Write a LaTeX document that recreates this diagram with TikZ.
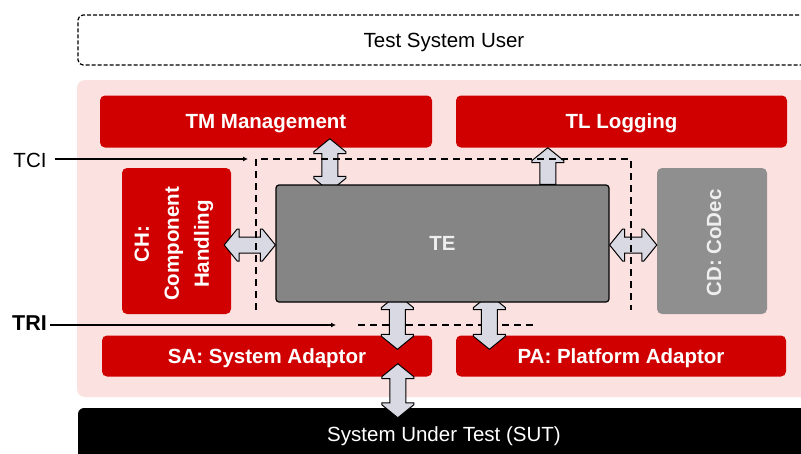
\documentclass[tikz,border=0pt]{standalone}
\usepackage{fontspec}
\setmainfont{Liberation Sans}
\usetikzlibrary{calc,arrows.meta}
\pgfdeclarelayer{boxes}
\pgfdeclarelayer{arrows}
\pgfsetlayers{boxes,arrows,main}
\definecolor{redC}{HTML}{D00000}
\definecolor{pinkC}{HTML}{FCE1E1}
\definecolor{teC}{HTML}{858585}
\definecolor{cdC}{HTML}{8F8F8F}
\definecolor{arrC}{HTML}{D9D9E3}
\definecolor{lightT}{HTML}{EEEEEE}
\newcommand{\VDblArrow}[2]{%
 \path[blk] let \p1=#1, \p2=#2 in
  (\x1,\y1) -- (\x1+16pt,\y1-13pt) -- (\x1+16pt,\y1-15pt) -- (\x1+8pt,\y1-15pt)
  -- (\x1+8pt,\y2+15pt) -- (\x1+16pt,\y2+15pt) -- (\x1+16pt,\y2+13pt) -- (\x1,\y2)
  -- (\x1-16pt,\y2+13pt) -- (\x1-16pt,\y2+15pt) -- (\x1-8pt,\y2+15pt)
  -- (\x1-8pt,\y1-15pt) -- (\x1-16pt,\y1-15pt) -- (\x1-16pt,\y1-13pt) -- cycle;}
\newcommand{\HDblArrow}[2]{%
 \path[blk] let \p1=#1, \p2=#2 in
  (\x1,\y1) -- (\x1+13pt,\y1+16pt) -- (\x1+15pt,\y1+16pt) -- (\x1+15pt,\y1+8pt)
  -- (\x2-15pt,\y1+8pt) -- (\x2-15pt,\y1+16pt) -- (\x2-13pt,\y1+16pt) -- (\x2,\y1)
  -- (\x2-13pt,\y1-16pt) -- (\x2-15pt,\y1-16pt) -- (\x2-15pt,\y1-8pt)
  -- (\x1+15pt,\y1-8pt) -- (\x1+15pt,\y1-16pt) -- (\x1+13pt,\y1-16pt) -- cycle;}
\newcommand{\VUpArrow}[2]{%
 \path[blk] let \p1=#1, \p2=#2 in
  (\x1,\y1) -- (\x1+16pt,\y1-13pt) -- (\x1+16pt,\y1-15pt) -- (\x1+8pt,\y1-15pt)
  -- (\x1+8pt,\y2) -- (\x1-8pt,\y2) -- (\x1-8pt,\y1-15pt) -- (\x1-16pt,\y1-15pt)
  -- (\x1-16pt,\y1-13pt) -- cycle;}
\tikzset{
  capbox/.style={text height=14.7pt, text depth=0pt},
  txt/.style={font=\fontsize{20.5}{30}\selectfont, capbox},
  redbox/.style={rectangle, rounded corners=5pt, fill=redC, text=white, inner sep=0pt,
    font=\fontsize{20.5}{30}\selectfont\bfseries, capbox},
  blk/.style={draw=black, line width=1pt, fill=arrC, line join=miter},
  bound/.style={draw=black, line width=1.3pt, dash pattern=on 7pt off 5pt},
  pointer/.style={draw=black, line width=1.2pt, -{Latex[length=5pt,width=5pt]}},
}
\begin{document}
\begin{tikzpicture}[x=1pt,y=-1pt]
\useasboundingbox (0,0) rectangle (801,453);
\begin{pgfonlayer}{boxes}
\fill[white] (0,0) rectangle (801,453);
% Test system user
\node[rectangle, rounded corners=5pt, draw=black, line width=1.2pt,
  dash pattern=on 4pt off 2pt, minimum width=732pt, minimum height=50pt,
  inner sep=0pt, txt] (TSU) at (444,40) {Test System User};
% pink test system region
\node[rectangle, rounded corners=8pt, fill=pinkC, minimum width=760pt,
  minimum height=317pt, inner sep=0pt] (TS) at (457,238.5) {};
% red components
\node[redbox, minimum width=332pt, minimum height=52pt] (TM) at (266,121.5) {TM Management};
\node[redbox, minimum width=331pt, minimum height=52pt] (TL) at (621.5,121.5) {TL Logging};
\node[redbox, minimum width=109pt, minimum height=146pt] (CH) at (176.5,241) {};
\node[rotate=90, align=center, text=white, inner sep=0pt,
  font=\fontsize{20.5}{30}\selectfont\bfseries] (CHt) at (174,244) {CH:\\Component\\Handling};
\node[rectangle, rounded corners=5pt, fill=cdC, minimum width=110pt,
  minimum height=146pt, inner sep=0pt] (CD) at (712,241) {};
\node[rotate=90, text=lightT, inner sep=0pt,
  font=\fontsize{20.5}{30}\selectfont\bfseries] (CDt) at (714,243) {CD: CoDec};
\node[redbox, minimum width=330pt, minimum height=41pt] (SA) at (267,356) {SA: System Adaptor};
\node[redbox, minimum width=330pt, minimum height=41pt] (PA) at (621,356) {PA: Platform Adaptor};
% SUT
\node[rectangle, rounded corners=6pt, fill=black, text=white, minimum width=732pt,
  minimum height=52pt, inner sep=0pt, txt] (SUT) at (444,434) {System Under Test (SUT)};
% TRI dashed line (behind arrows)
\coordinate (tri1) at (358,325);
\coordinate (tri2) at (534,325);
\draw[bound] (tri1) -- (tri2);
\end{pgfonlayer}
% TE
\node[rectangle, rounded corners=3pt, draw=black, line width=1.2pt, fill=teC,
  minimum width=333pt, minimum height=117pt, inner sep=0pt, text=lightT,
  font=\fontsize{20.5}{30}\selectfont\bfseries, capbox] (TE) at (442.5,243.5) {TE};
% block arrows
\begin{pgfonlayer}{arrows}
\VDblArrow{($(TM.south west)+(230,-9)$)}{($(TE.north west)+(54,7)$)}
\VUpArrow{($(TL.south west)+(92,0)$)}{($(TE.north west)+(272,0)$)}
\HDblArrow{($(CH.east)+(-7,4)$)}{($(TE.west)+(0,1.5)$)}
\HDblArrow{($(TE.east)+(0,1.5)$)}{($(CD.west)+(0,4)$)}
\VDblArrow{($(TE.south west)+(122,-8)$)}{($(SA.north west)+(296,14)$)}
\VDblArrow{($(TE.south west)+(214,-8)$)}{($(PA.north west)+(34,14)$)}
\VDblArrow{($(SA.south west)+(296,-13)$)}{($(SUT.north west)+(320,10)$)}
\end{pgfonlayer}
% TCI boundary
\coordinate (bl) at (256,310);
\coordinate (tr) at (631,159);
\coordinate (br) at (631,310);
\draw[bound] (bl) |- (tr) -- (br);
% interface labels
\node[txt, inner sep=0pt] (TCI) at (30,160) {TCI};
\coordinate (tciend) at (248,159);
\draw[pointer] ($(TCI.east |- tciend)+(8,0)$) -- (tciend);
\node[inner sep=0pt, font=\fontsize{21.5}{30}\selectfont\bfseries, text height=15.4pt,
  text depth=0pt] (TRI) at (29.5,322.5) {TRI};
\coordinate (triend) at (336,325);
\draw[pointer] ($(TRI.east |- triend)+(3,0)$) -- (triend);
\end{tikzpicture}
\end{document}
